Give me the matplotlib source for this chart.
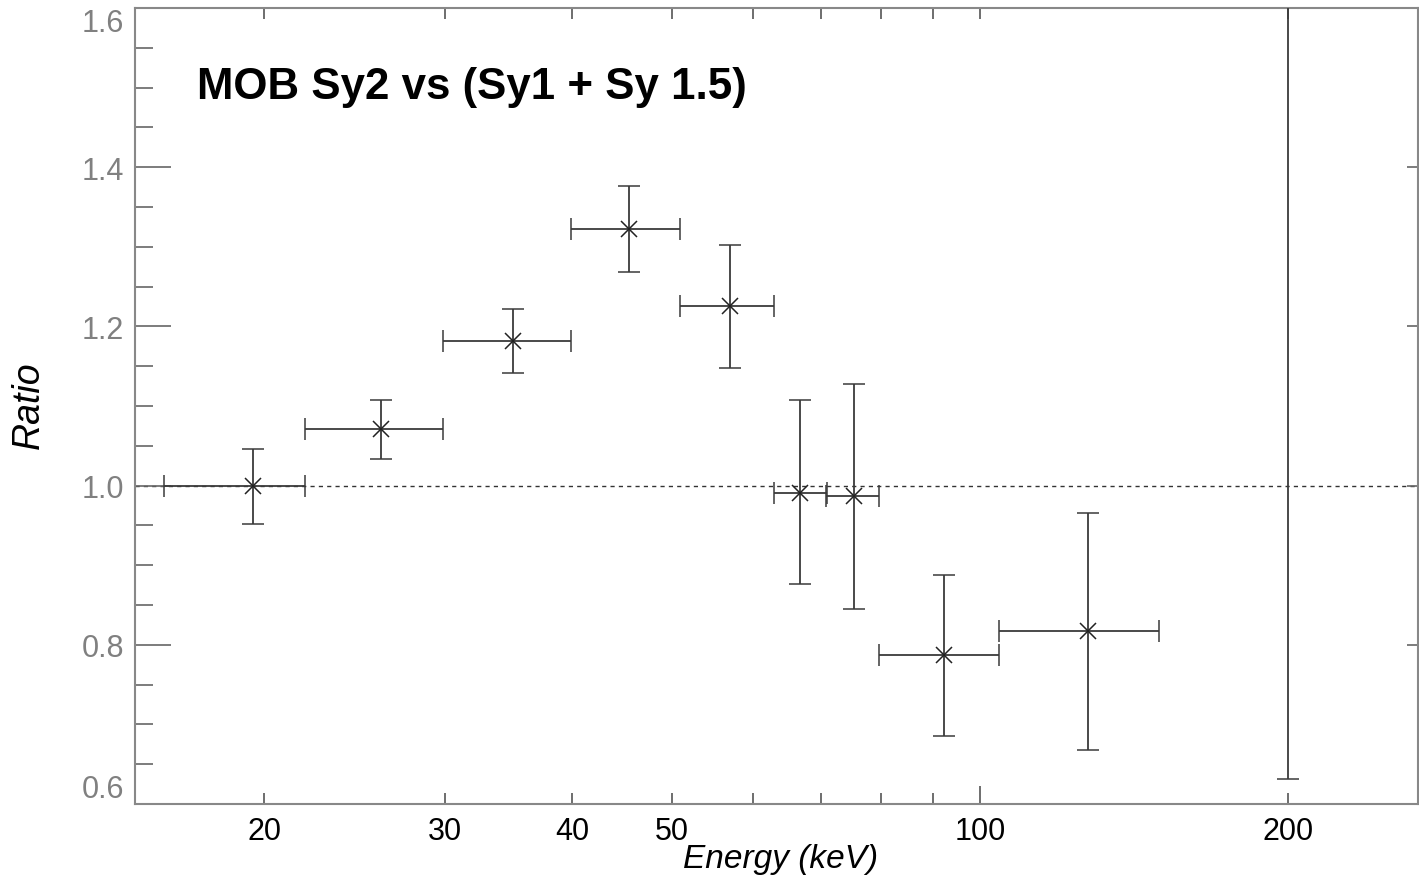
import matplotlib
matplotlib.use("Agg")
import matplotlib.pyplot as plt
from matplotlib.ticker import FixedLocator, NullFormatter, MultipleLocator

# Data
energy = [19.5, 26.0, 35.0, 45.4, 57.0, 66.8, 75.3, 92.2, 127.5, 200.0]
e_lo = [15.95, 21.9, 29.9, 39.9, 51.0, 62.9, 70.8, 79.8, 104.4, 200.0]
e_hi = [21.9, 29.9, 39.9, 51.0, 62.9, 70.9, 79.8, 104.4, 149.6, 200.0]
ratio = [1.000, 1.071, 1.182, 1.322, 1.226, 0.991, 0.987, 0.787, 0.817, 1.90]
r_lo = [0.952, 1.033, 1.141, 1.268, 1.148, 0.876, 0.845, 0.685, 0.668, 0.631]
r_hi = [1.046, 1.108, 1.222, 1.376, 1.302, 1.108, 1.128, 0.888, 0.966, 3.00]

x_major = [20, 30, 40, 50, 100, 200]
x_minor = [60, 70, 80, 90]
y_major = [0.6, 0.8, 1.0, 1.2, 1.4, 1.6]

title_text = "MOB Sy2 vs (Sy1 + Sy 1.5)"

plt.rcParams['font.family'] = ['Liberation Sans', 'DejaVu Sans']

fig = plt.figure(figsize=(14.19, 8.78), dpi=100)
ax = fig.add_axes([135/1419, 1-805/878, (1418-135)/1419, (805-9)/878])

ax.set_xscale('log')
ax.set_xlim(14.95, 268)
ax.set_ylim(0.6, 1.6)

# reference line
ax.axhline(1.0, color='#333333', lw=1.0, ls=(0, (3, 3)), zorder=1)

xerr = [[e - l for e, l in zip(energy, e_lo)], [h - e for e, h in zip(energy, e_hi)]]
yerr = [[r - l for r, l in zip(ratio, r_lo)], [h - r for r, h in zip(ratio, r_hi)]]
ax.errorbar(energy, ratio, xerr=xerr, yerr=yerr, fmt='x', color='#222222',
            ms=11, mew=1.1, elinewidth=1.3, capsize=8, capthick=1.3,
            ecolor='#3a3a3a', zorder=3)

# ticks
ax.xaxis.set_major_locator(FixedLocator(x_major))
ax.xaxis.set_minor_locator(FixedLocator(x_minor))
ax.xaxis.set_minor_formatter(NullFormatter())
ax.set_xticklabels([str(v) for v in x_major])
ax.yaxis.set_major_locator(FixedLocator(y_major))
ax.yaxis.set_minor_locator(MultipleLocator(0.05))
ax.set_yticklabels([f"{v:.1f}" for v in y_major])

ax.tick_params(axis='x', which='both', direction='in', top=True, bottom=True,
               length=8, width=1.2, color='#555555', labelsize=22, labelcolor='black', pad=9)
ax.tick_params(axis='y', which='major', direction='in', left=True, right=True,
               length=26, width=1.2, color='#666666', labelsize=22, labelcolor='#808080', pad=8)
ax.tick_params(axis='y', which='minor', direction='in', left=True, right=False,
               length=13, width=1.2, color='#666666')
for t in ax.yaxis.get_major_ticks():
    t.tick2line.set_markersize(8)
# longer tick at 100 on the bottom axis
for t, v in zip(ax.xaxis.get_major_ticks(), x_major):
    if v == 100:
        t.tick1line.set_markersize(13)

# end labels sit inside the axis range, as in the reference
for lab, v in zip(ax.get_yticklabels(), y_major):
    if v == 1.6:
        lab.set_verticalalignment('top')
    elif v == 0.6:
        lab.set_verticalalignment('bottom')

for s in ax.spines.values():
    s.set_color('#888888')
    s.set_linewidth(1.5)

ax.set_xlabel('Energy (keV)', fontsize=24, style='italic', va='center')
ax.xaxis.set_label_coords((781-135)/1283, -(860-805)/796)
ax.set_ylabel('Ratio', fontsize=27, style='italic', va='center')
ax.yaxis.set_label_coords(-(135-29)/1283, (805-405)/796)

fig.text(197/1419, 1-88/878, title_text, fontsize=31.6, fontweight='bold',
         ha='left', va='center')

fig.savefig('out.png', dpi=100)
